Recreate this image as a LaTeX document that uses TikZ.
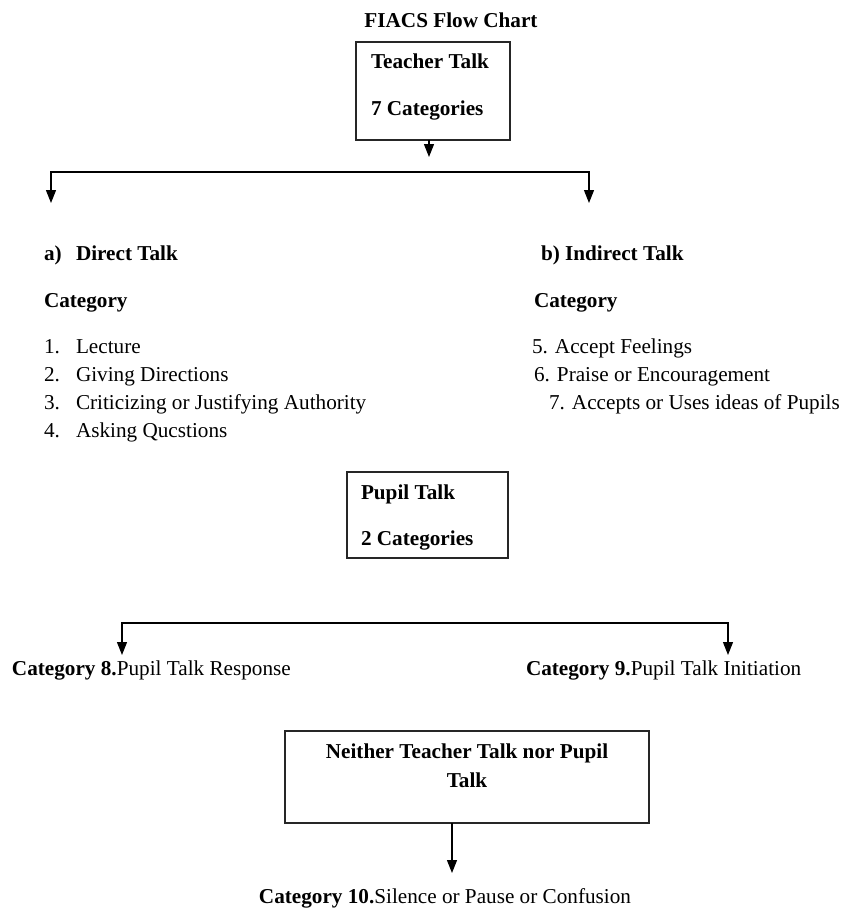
\documentclass[tikz,border=0pt]{standalone}
\usepackage{fontspec}
\setmainfont{Liberation Serif}
\usetikzlibrary{arrows.meta}
\begin{document}
\begin{tikzpicture}[x=1pt,y=-1pt,
  every node/.style={inner sep=0pt, outer sep=0pt, font=\fontsize{21.2}{25}\selectfont},
  txt/.style={anchor=base west},
  btxt/.style={anchor=base west, font=\fontsize{21.2}{25}\selectfont\bfseries},
  ctxt/.style={anchor=base},
  cbtxt/.style={anchor=base, font=\fontsize{21.2}{25}\selectfont\bfseries},
  box/.style={draw=black!85, line width=1.1pt, rectangle},
  arr/.style={line width=1.1pt, -{Triangle[length=13pt,width=10pt]}},
  bar/.style={line width=2pt, line cap=rect}]
\useasboundingbox (0,0) rectangle (846,911);

% Title
\node[cbtxt] (title) at (451,27) {FIACS Flow Chart};

% Teacher talk box
\node[box, minimum width=154pt, minimum height=98pt] (tt) at (433,91) {};
\node[btxt] (tt1) at (371,68) {Teacher Talk};
\node[btxt] (tt2) at (371,115) {7 Categories};
\coordinate (tta) at (429,157);
\draw[arr] (tt.south -| tta) -- (tta);

% Branch to direct / indirect
\coordinate (tl) at (51,172);
\coordinate (tr) at (589,172);
\coordinate (la) at (51,203);
\coordinate (ra) at (589,203);
\draw[bar] (tl) -- (tr);
\draw[arr] (tl) -- (la);
\draw[arr] (tr) -- (ra);

% Direct talk
\node[btxt] (da) at (44,260) {a)};
\node[btxt] (dh) at (76,260) {Direct Talk};
\node[btxt] (dc) at (44,307) {Category};
\node[txt] (n1) at (44,353) {1.};
\node[txt] (d1) at (76,353) {Lecture};
\node[txt] (n2) at (44,381) {2.};
\node[txt] (d2) at (76,381) {Giving Directions};
\node[txt] (n3) at (44,409) {3.};
\node[txt] (d3) at (76,409) {Criticizing or Justifying Authority};
\node[txt] (n4) at (44,437) {4.};
\node[txt] (d4) at (76,437) {Asking Qucstions};

% Indirect talk
\node[btxt] (ih) at (541,260) {b) Indirect Talk};
\node[btxt] (ic) at (534,307) {Category};
\node[txt] (i5) at (532,353) {5. Accept Feelings};
\node[txt] (i6) at (534,381) {6. Praise or Encouragement};
\node[txt] (i7) at (549,409) {7. Accepts or Uses ideas of Pupils};

% Pupil talk box
\node[box, minimum width=161pt, minimum height=86pt] (pt) at (427.5,515) {};
\node[btxt] (pt1) at (361,499) {Pupil Talk};
\node[btxt] (pt2) at (361,545) {2 Categories};

% Branch to categories 8 and 9
\coordinate (pl) at (122,623);
\coordinate (pr) at (728,623);
\coordinate (pla) at (122,655);
\coordinate (pra) at (728,655);
\draw[bar] (pl) -- (pr);
\draw[arr] (pl) -- (pla);
\draw[arr] (pr) -- (pra);
\node[txt] (c8) at (12,675) {\textbf{Category 8.}Pupil Talk Response};
\node[txt] (c9) at (526,675) {\textbf{Category 9.}Pupil Talk Initiation};

% Neither box
\node[box, minimum width=364pt, minimum height=92pt] (nt) at (467,777) {};
\node[cbtxt] (nt1) at (467,758) {Neither Teacher Talk nor Pupil};
\node[cbtxt] (nt2) at (467,787) {Talk};
\coordinate (nta) at (452,873);
\draw[arr] (nt.south -| nta) -- (nta);
\node[ctxt] (c10) at (445,903) {\textbf{Category 10.}Silence or Pause or Confusion};
\end{tikzpicture}
\end{document}
